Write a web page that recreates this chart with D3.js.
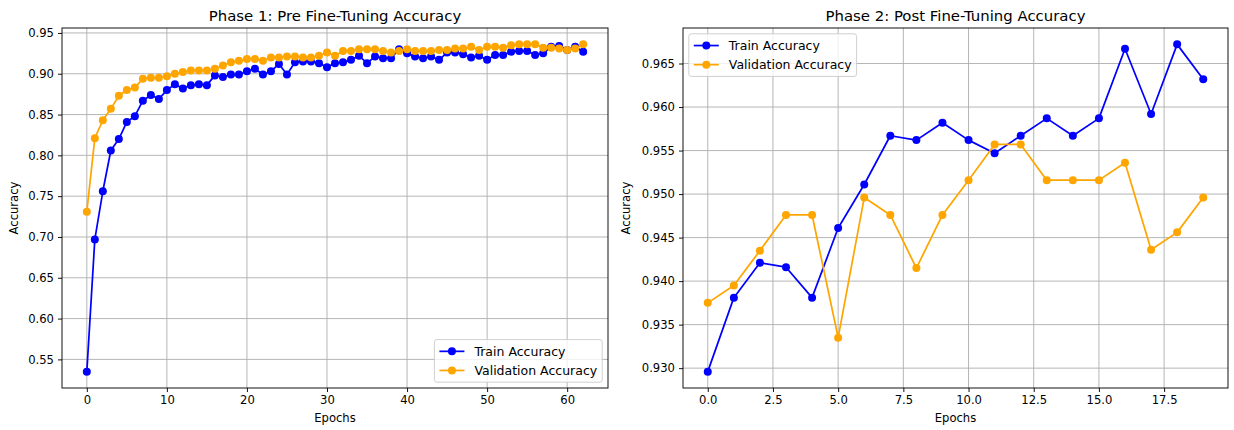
<!DOCTYPE html>
<html>
<head>
<meta charset="utf-8">
<script src="https://cdn.jsdelivr.net/npm/d3@7/dist/d3.min.js"></script>
<style>
  body { margin: 0; background: #fff; }
  svg text { font-family: "DejaVu Sans", sans-serif; fill: #000; }
</style>
</head>
<body>
<div id="chart"></div>
<script>
'use strict';

// Phase 1 - accuracy per epoch (63 epochs)
const preTrainAcc = [
  0.535, 0.697, 0.756, 0.806, 0.820, 0.841, 0.848, 0.867, 0.874, 0.869,
  0.880, 0.887, 0.882, 0.886, 0.887, 0.886, 0.898, 0.896, 0.899, 0.899,
  0.903, 0.906, 0.899, 0.903, 0.912, 0.899, 0.914, 0.915, 0.915, 0.913,
  0.908, 0.913, 0.914, 0.917, 0.922, 0.913, 0.921, 0.919, 0.919, 0.930,
  0.925, 0.921, 0.919, 0.921, 0.917, 0.926, 0.926, 0.924, 0.920, 0.922,
  0.917, 0.923, 0.923, 0.927, 0.928, 0.928, 0.923, 0.925, 0.933, 0.934,
  0.929, 0.933, 0.927
];
const preValAcc = [
  0.731, 0.821, 0.843, 0.857, 0.873, 0.880, 0.883, 0.894, 0.895, 0.895,
  0.897, 0.900, 0.902, 0.904, 0.904, 0.904, 0.906, 0.910, 0.914, 0.916,
  0.918, 0.918, 0.916, 0.920, 0.920, 0.921, 0.921, 0.920, 0.920, 0.922,
  0.926, 0.922, 0.928, 0.928, 0.930, 0.930, 0.930, 0.928, 0.926, 0.928,
  0.930, 0.928, 0.928, 0.928, 0.929, 0.929, 0.931, 0.931, 0.933, 0.929,
  0.933, 0.933, 0.932, 0.935, 0.936, 0.936, 0.936, 0.932, 0.932, 0.931,
  0.929, 0.931, 0.936
];

// Phase 2 - accuracy per epoch (20 epochs)
const postTrainAcc = [
  0.9296, 0.9381, 0.9421, 0.9416, 0.9381, 0.9461, 0.9511, 0.9567, 0.9562, 0.9582,
  0.9562, 0.9547, 0.9567, 0.9587, 0.9567, 0.9587, 0.9667, 0.9592, 0.9672, 0.9632
];
const postValAcc = [
  0.9375, 0.9395, 0.9435, 0.9476, 0.9476, 0.9335, 0.9496, 0.9476, 0.9415, 0.9476,
  0.9516, 0.9557, 0.9557, 0.9516, 0.9516, 0.9516, 0.9536, 0.9436, 0.9456, 0.9496
];

// Tick values and labels
const preXTicks = [0, 10, 20, 30, 40, 50, 60];
const preYTicks = [0.55, 0.60, 0.65, 0.70, 0.75, 0.80, 0.85, 0.90, 0.95];
const postXTicks = [0, 2.5, 5, 7.5, 10, 12.5, 15, 17.5];
const postYTicks = [0.930, 0.935, 0.940, 0.945, 0.950, 0.955, 0.960, 0.965];

const seriesNames = ['Train Accuracy', 'Validation Accuracy'];
const seriesColors = ['#0000ff', '#ffa500'];

const titles = ['Phase 1: Pre Fine-Tuning Accuracy', 'Phase 2: Post Fine-Tuning Accuracy'];


const W = 1234, H = 430;
const FONT = 11.6;        // tick and axis label size
const LEGEND_FONT = 12.5; // legend text reads a bit larger in the source
const TITLE_FONT = 14.9;

const svg = d3.select('#chart').append('svg')
  .attr('width', W)
  .attr('height', H);


// matplotlib style limits : data extent plus 5% margin each side
function paddedExtent(values) {
  const [lo, hi] = d3.extent(values);
  const m = (hi - lo) * 0.05;
  return [lo - m, hi + m];
}


// Draw one subplot (frame, grid, axes, lines, legend)
function drawPanel(opts) {
  const g = svg.append('g').attr('transform', `translate(${opts.left}, ${opts.top})`);
  const w = opts.width, h = opts.height;
  const n = opts.series[0].length;
  const x = d3.scaleLinear().domain(paddedExtent([0, n - 1])).range([0, w]);
  const y = d3.scaleLinear().domain(paddedExtent(opts.series.flat())).range([h, 0]);

  // Grid lines, below the data
  g.append('g').selectAll('line.vgrid')
    .data(opts.xTicks).enter().append('line')
    .attr('x1', d => x(d)).attr('x2', d => x(d))
    .attr('y1', 0).attr('y2', h)
    .style('stroke', '#b0b0b0').style('stroke-width', 0.93);
  g.append('g').selectAll('line.hgrid')
    .data(opts.yTicks).enter().append('line')
    .attr('x1', 0).attr('x2', w)
    .attr('y1', d => y(d)).attr('y2', d => y(d))
    .style('stroke', '#b0b0b0').style('stroke-width', 0.93);

  // Axes
  const xAxis = g.append('g')
    .attr('transform', `translate(0, ${h})`)
    .call(d3.axisBottom(x).tickValues(opts.xTicks).tickFormat(opts.xFormat)
      .tickSize(4).tickPadding(4).tickSizeOuter(0));
  const yAxis = g.append('g')
    .call(d3.axisLeft(y).tickValues(opts.yTicks).tickFormat(opts.yFormat)
      .tickSize(4).tickPadding(4).tickSizeOuter(0));
  [xAxis, yAxis].forEach(a => {
    a.select('.domain').remove();
    a.selectAll('text').style('font-size', FONT + 'px').style('font-family', '"DejaVu Sans", sans-serif');
    a.selectAll('line').style('stroke', '#000').style('stroke-width', 0.93);
  });

  // Series : line + round markers
  const line = d3.line().x((d, i) => x(i)).y(d => y(d));
  opts.series.forEach((data, s) => {
    g.append('path')
      .datum(data)
      .attr('d', line)
      .style('fill', 'none')
      .style('stroke', seriesColors[s])
      .style('stroke-width', 1.73)
      .style('stroke-linejoin', 'round');
    g.append('g').selectAll('circle')
      .data(data).enter().append('circle')
      .attr('cx', (d, i) => x(i))
      .attr('cy', d => y(d))
      .attr('r', 4)
      .style('fill', seriesColors[s]);
  });

  // Frame (spines) on top
  g.append('rect')
    .attr('width', w).attr('height', h)
    .style('fill', 'none').style('stroke', '#000').style('stroke-width', 0.93);

  // Title and axis labels
  g.append('text')
    .attr('x', w / 2).attr('y', -7)
    .attr('text-anchor', 'middle')
    .style('font-size', TITLE_FONT + 'px')
    .text(opts.title);
  g.append('text')
    .attr('x', w / 2).attr('y', h + 34)
    .attr('text-anchor', 'middle')
    .style('font-size', FONT + 'px')
    .text('Epochs');
  g.append('text')
    .attr('transform', `translate(${opts.yLabelX}, ${h / 2}) rotate(-90)`)
    .attr('text-anchor', 'middle')
    .style('font-size', FONT + 'px')
    .text('Accuracy');

  drawLegend(g, w, h, opts.legendPos);
}


// Legend box in matplotlib proportions
function drawLegend(g, w, h, pos) {
  const f = LEGEND_FONT;
  const pad = 0.4 * f, axPad = 0.5 * FONT, rowH = 13.5, spacing = 0.45 * f;
  const handleLen = 2 * f, textPad = 0.8 * f;
  const lg = g.append('g');
  const box = lg.append('rect');
  const texts = seriesNames.map((name, i) => lg.append('text')
    .attr('x', pad + handleLen + textPad)
    .attr('y', pad + i * (rowH + spacing) + rowH / 2)
    .attr('dy', '0.35em')
    .style('font-size', f + 'px')
    .text(name));
  const textW = d3.max(texts, t => t.node().getComputedTextLength());
  const bw = pad + handleLen + textPad + textW + pad;
  const bh = pad * 2 + rowH * 2 + spacing;
  seriesNames.forEach((name, i) => {
    const cy = pad + i * (rowH + spacing) + rowH / 2;
    lg.append('line')
      .attr('x1', pad).attr('x2', pad + handleLen)
      .attr('y1', cy).attr('y2', cy)
      .style('stroke', seriesColors[i]).style('stroke-width', 1.73);
    lg.append('circle')
      .attr('cx', pad + handleLen / 2).attr('cy', cy).attr('r', 4)
      .style('fill', seriesColors[i]);
  });
  box.attr('width', bw).attr('height', bh).attr('rx', 2.5)
    .style('fill', 'rgba(255,255,255,0.8)')
    .style('stroke', '#cccccc').style('stroke-width', 0.93);
  const lx = pos === 'lower right' ? w - axPad - bw : axPad;
  const ly = pos === 'lower right' ? h - axPad - bh : axPad;
  lg.attr('transform', `translate(${lx}, ${ly})`);
}


drawPanel({
  left: 62, top: 28, width: 546, height: 360,
  series: [preTrainAcc, preValAcc],
  xTicks: preXTicks, yTicks: preYTicks,
  xFormat: d3.format('d'), yFormat: d3.format('.2f'),
  title: titles[0], yLabelX: -44, legendPos: 'lower right'
});

drawPanel({
  left: 683, top: 28, width: 545, height: 360,
  series: [postTrainAcc, postValAcc],
  xTicks: postXTicks, yTicks: postYTicks,
  xFormat: d3.format('.1f'), yFormat: d3.format('.3f'),
  title: titles[1], yLabelX: -53, legendPos: 'upper left'
});
</script>
</body>
</html>
